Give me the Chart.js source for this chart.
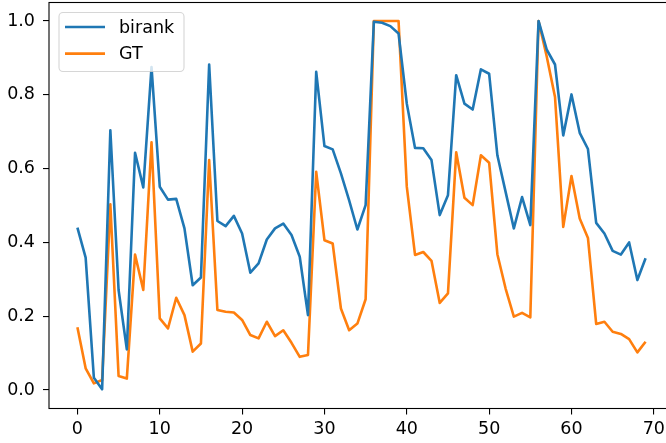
<!DOCTYPE html>
<html>
<head>
<meta charset="utf-8">
<script src="https://cdn.jsdelivr.net/npm/chart.js@4.4.1/dist/chart.umd.min.js"></script>
<style>
  html, body { margin: 0; padding: 0; background: #fff; overflow: hidden; }
  #wrap { width: 680px; height: 443px; }
</style>
</head>
<body>
<div id="wrap"><canvas id="scoreChart" width="680" height="443"></canvas></div>
<script>
// scores per item, index 0..69
const birank = [
  0.440, 0.359, 0.033, 0.002, 0.704, 0.271, 0.110, 0.643, 0.549, 0.875,
  0.551, 0.516, 0.518, 0.438, 0.284, 0.305, 0.882, 0.458, 0.444, 0.472,
  0.424, 0.318, 0.343, 0.408, 0.438, 0.451, 0.420, 0.361, 0.203, 0.862,
  0.661, 0.652, 0.587, 0.514, 0.435, 0.501, 0.998, 0.995, 0.986, 0.966,
  0.776, 0.656, 0.655, 0.623, 0.474, 0.528, 0.853, 0.776, 0.760, 0.869,
  0.857, 0.636, 0.537, 0.438, 0.523, 0.447, 1.000, 0.922, 0.882, 0.690,
  0.801, 0.697, 0.653, 0.453, 0.424, 0.377, 0.367, 0.400, 0.298, 0.357
];
const gt = [
  0.170, 0.059, 0.018, 0.027, 0.503, 0.038, 0.031, 0.367, 0.271, 0.671,
  0.194, 0.167, 0.250, 0.203, 0.104, 0.126, 0.623, 0.217, 0.212, 0.210,
  0.190, 0.149, 0.140, 0.185, 0.146, 0.162, 0.128, 0.090, 0.095, 0.591,
  0.406, 0.397, 0.221, 0.162, 0.180, 0.246, 1.000, 1.000, 1.000, 1.000,
  0.551, 0.366, 0.374, 0.350, 0.236, 0.262, 0.644, 0.521, 0.501, 0.636,
  0.616, 0.368, 0.275, 0.199, 0.209, 0.197, 1.000, 0.903, 0.794, 0.442,
  0.580, 0.465, 0.412, 0.179, 0.185, 0.158, 0.152, 0.138, 0.102, 0.131
];
const xTicks = [0, 10, 20, 30, 40, 50, 60, 70];
const yTicks = [0.0, 0.2, 0.4, 0.6, 0.8, 1.0];

const FONT = "'DejaVu Sans', sans-serif";
const toPoints = arr => arr.map((v, i) => ({ x: i, y: v }));

// frame around the plot plus a matplotlib-like legend box
const frameAndLegend = {
  id: 'frameAndLegend',
  afterDatasetsDraw(chart) {
    const { ctx, chartArea: a } = chart;
    ctx.save();
    ctx.strokeStyle = '#000';
    ctx.lineWidth = 1.1;
    ctx.strokeRect(a.left, a.top, a.right - a.left, a.bottom - a.top);

    // legend
    const bx = a.left + 10, by = a.top + 10, bw = 125, bh = 59;
    ctx.beginPath();
    ctx.roundRect(bx, by, bw, bh, 4);
    ctx.fillStyle = 'rgba(255,255,255,0.8)';
    ctx.fill();
    ctx.strokeStyle = 'rgba(204,204,204,0.8)';
    ctx.lineWidth = 1.1;
    ctx.stroke();

    ctx.font = '17.5px ' + FONT;
    ctx.textBaseline = 'middle';
    ctx.textAlign = 'left';
    chart.data.datasets.forEach((ds, k) => {
      const y = by + 14.5 + k * 26.6;
      ctx.beginPath();
      ctx.moveTo(bx + 6, y);
      ctx.lineTo(bx + 46, y);
      ctx.strokeStyle = ds.borderColor;
      ctx.lineWidth = 2.6;
      ctx.stroke();
      ctx.fillStyle = '#000';
      ctx.fillText(ds.label, bx + 60, y + 1);
    });
    ctx.restore();
  }
};

new Chart(document.getElementById('scoreChart').getContext('2d'), {
  type: 'line',
  data: {
    datasets: [
      { label: 'birank', data: toPoints(birank), borderColor: '#1f77b4' },
      { label: 'GT', data: toPoints(gt), borderColor: '#ff7f0e' }
    ]
  },
  options: {
    responsive: false,
    devicePixelRatio: 1,
    animation: false,
    layout: { padding: { top: 2.5, right: 6, left: 0, bottom: 0 } },
    elements: {
      point: { radius: 0 },
      line: { borderWidth: 2.6, tension: 0, borderJoinStyle: 'round', borderCapStyle: 'butt' }
    },
    plugins: { legend: { display: false }, tooltip: { enabled: false } },
    scales: {
      x: {
        type: 'linear',
        min: -3.45,
        max: 72.45,
        afterBuildTicks: s => { s.ticks = xTicks.map(v => ({ value: v })); },
        afterFit: s => { s.height = 34.5; s.paddingLeft = 0; s.paddingRight = 0; },
        border: { display: false },
        grid: { drawOnChartArea: false, drawTicks: true, tickLength: 6, color: '#000', lineWidth: 1.1 },
        ticks: { color: '#000', font: { family: FONT, size: 17.5 }, padding: 4, maxRotation: 0,
                 callback: v => String(v) }
      },
      y: {
        type: 'linear',
        min: -0.05,
        max: 1.05,
        afterBuildTicks: s => { s.ticks = yTicks.map(v => ({ value: v })); },
        afterFit: s => { s.width = 49; s.paddingTop = 0; s.paddingBottom = 0; },
        border: { display: false },
        grid: { drawOnChartArea: false, drawTicks: true, tickLength: 6, color: '#000', lineWidth: 1.1 },
        ticks: { color: '#000', font: { family: FONT, size: 17.5 }, padding: 8,
                 callback: v => v.toFixed(1) }
      }
    }
  },
  plugins: [frameAndLegend]
});
</script>
</body>
</html>
